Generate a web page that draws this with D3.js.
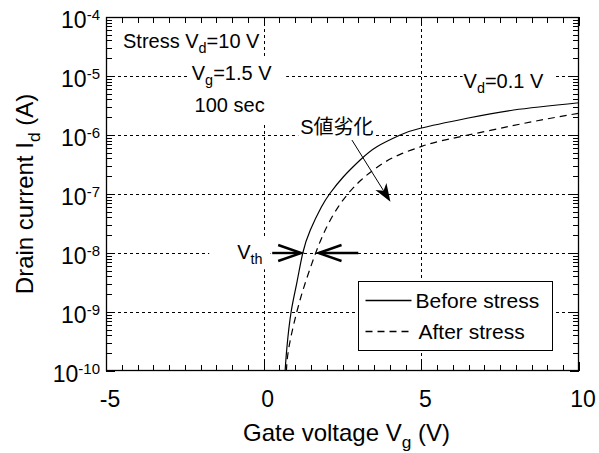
<!DOCTYPE html>
<html>
<head>
<meta charset="utf-8">
<script src="https://cdn.jsdelivr.net/npm/d3@7"></script>
<style>
  html, body { margin: 0; padding: 0; background: #fff; }
  svg { display: block; font-family: "Liberation Sans", Arial, Helvetica, sans-serif; }
</style>
</head>
<body>
<svg id="chart" width="599" height="453"></svg>
<script>
// Id–Vg transfer curves (Vd = 0.1 V) before and after hot-carrier stress
const vgBefore = [0.68, 0.74, 0.87, 1.05, 1.24, 1.48, 1.83, 2.10, 2.53, 3.06, 3.59, 4.33, 4.97, 6.45, 7.93, 10.0];
const idBefore = [1e-10, 2.6e-10, 1e-9, 3.1e-9, 1e-8, 2.45e-8, 6.0e-8, 1.02e-7, 1.96e-7, 3.77e-7, 6.33e-7, 1.0e-6, 1.30e-6, 1.92e-6, 2.65e-6, 3.52e-6];

const vgAfter = [0.72, 0.80, 1.05, 1.35, 1.65, 1.84, 2.06, 2.36, 2.67, 3.10, 3.70, 4.33, 4.97, 5.60, 7.09, 8.57, 10.0];
const idAfter = [1e-10, 2.5e-10, 1e-9, 3.5e-9, 1e-8, 1.8e-8, 3.2e-8, 6.0e-8, 1.0e-7, 1.74e-7, 3.1e-7, 4.7e-7, 6.3e-7, 7.9e-7, 1.17e-6, 1.7e-6, 2.34e-6];

const xTickValues = [-5, 0, 5, 10];
const yTickExponents = [-10, -9, -8, -7, -6, -5, -4];
const xGridValues = [0, 5];
const yGridValues = [1e-9, 1e-8, 1e-7, 1e-6, 1e-5];

const seriesNames = ["Before stress", "After stress"];

const svg = d3.select("#chart");
const pL = 106, pR = 579, pT = 17, pB = 371;

const x = d3.scaleLinear().domain([-5, 10]).range([pL, pR]);
const y = d3.scaleLog().domain([1e-10, 1e-4]).range([pB, pT]);

// dotted grid
const grid = svg.append("g").attr("stroke", "#000").attr("stroke-width", 1).attr("stroke-dasharray", "3,3");
grid.selectAll("line.h").data(yGridValues).join("line").attr("class", "h")
  .attr("x1", pL).attr("x2", pR)
  .attr("y1", d => Math.round(y(d)) + 0.5).attr("y2", d => Math.round(y(d)) + 0.5);
grid.selectAll("line.v").data(xGridValues).join("line").attr("class", "v")
  .attr("y1", pT).attr("y2", pB)
  .attr("x1", d => Math.round(x(d)) + 0.5).attr("x2", d => Math.round(x(d)) + 0.5);

// layer for white label backgrounds (above the grid, below the curves)
const bgLayer = svg.append("g");
const curveLayer = svg.append("g");
const annoLayer = svg.append("g");

function backing(textSel, padL, padR, padT, padB) {
  const b = textSel.node().getBBox();
  bgLayer.append("rect")
    .attr("x", b.x - padL).attr("y", b.y - padT)
    .attr("width", b.width + padL + padR).attr("height", b.height + padT + padB)
    .attr("fill", "#fff");
}

// curves
const line = d3.line()
  .x(d => x(d[0]))
  .y(d => y(d[1]))
  .curve(d3.curveNatural);

curveLayer.append("path")
  .datum(d3.zip(vgBefore, idBefore))
  .attr("d", line).attr("fill", "none").attr("stroke", "#000").attr("stroke-width", 1.2);
curveLayer.append("path")
  .datum(d3.zip(vgAfter, idAfter))
  .attr("d", line).attr("fill", "none").attr("stroke", "#000").attr("stroke-width", 1.2)
  .attr("stroke-dasharray", "7,5");

// text with subscripts
function subText(g, px, py, parts, size, anchor) {
  const t = g.append("text").attr("x", px).attr("y", py)
    .attr("font-size", size).attr("text-anchor", anchor || "start").attr("fill", "#000");
  const shift = size * 0.28;
  let prevSub = false;
  parts.forEach(p => {
    const ts = t.append("tspan").text(p.t);
    if (p.sub) {
      ts.attr("font-size", size * 0.72).attr("dy", shift);
    } else if (prevSub) {
      ts.attr("dy", -shift);
    }
    prevSub = !!p.sub;
  });
  return t;
}

// stress condition annotation
const annoSize = 20;
const s1 = subText(annoLayer, x(-4.46), y(3.0e-5), [{t: "Stress V"}, {t: "d", sub: true}, {t: "=10 V"}], annoSize);
backing(s1, 2, 2, 4, 4);
const s2 = subText(annoLayer, x(-2.28), y(8.6e-6), [{t: "V"}, {t: "g", sub: true}, {t: "=1.5 V"}], annoSize);
backing(s2, 3, 14, 4, 4);
const s3 = subText(annoLayer, x(-2.19), y(2.45e-6), [{t: "100 sec"}], annoSize);
backing(s3, 3, 3, 6, 6);

const s4 = subText(annoLayer, x(6.34), y(6.3e-6), [{t: "V"}, {t: "d", sub: true}, {t: "=0.1 V"}], annoSize);
backing(s4, 1, 12, 3, 3);

const s5 = annoLayer.append("text").attr("x", x(1.16)).attr("y", y(1.05e-6))
  .attr("font-size", annoSize).attr("font-family", "'Liberation Sans', 'Noto Sans CJK JP', sans-serif")
  .text("S値劣化");
backing(s5, 2, 2, 2, 2);

const s6 = subText(annoLayer, x(-0.84), y(8.0e-9), [{t: "V"}, {t: "th", sub: true}], annoSize);
backing(s6, 28, 8, 2, 2);

// S-factor degradation arrow
const aStart = [x(2.80), y(8.2e-7)], aEnd = [x(4.02), y(7.4e-8)];
const ang = Math.atan2(aEnd[1] - aStart[1], aEnd[0] - aStart[0]);
const hl = 18, hw = 6.5;
const back = [aEnd[0] - hl * Math.cos(ang), aEnd[1] - hl * Math.sin(ang)];
const notch = [aEnd[0] - hl * 0.72 * Math.cos(ang), aEnd[1] - hl * 0.72 * Math.sin(ang)];
annoLayer.append("line")
  .attr("x1", aStart[0]).attr("y1", aStart[1]).attr("x2", notch[0]).attr("y2", notch[1])
  .attr("stroke", "#000").attr("stroke-width", 1);
annoLayer.append("path")
  .attr("d", `M${aEnd[0]},${aEnd[1]}
    L${back[0] - hw * Math.sin(ang)},${back[1] + hw * Math.cos(ang)}
    L${notch[0]},${notch[1]}
    L${back[0] + hw * Math.sin(ang)},${back[1] - hw * Math.cos(ang)}Z`)
  .attr("fill", "#000");

// threshold-voltage arrows at 1e-8 A
function openArrow(x0, x1, yy) {
  const dir = Math.sign(x1 - x0);
  annoLayer.append("line").attr("x1", x0).attr("x2", x1 - dir * 1).attr("y1", yy).attr("y2", yy)
    .attr("stroke", "#000").attr("stroke-width", 2.4);
  annoLayer.append("path")
    .attr("d", `M${x1 - dir * 23},${yy - 8} L${x1},${yy} L${x1 - dir * 23},${yy + 8}`)
    .attr("fill", "none").attr("stroke", "#000").attr("stroke-width", 2.4);
}
const yVth = y(1e-8);
openArrow(x(0.27), x(1.19), yVth);
openArrow(x(3.0), x(1.74), yVth);

// legend
const legendSize = 21;
const lg = svg.append("g");
const lx = 358.5, ly = 281.5, lw = 194, lh = 69;
lg.append("rect").attr("x", lx).attr("y", ly).attr("width", lw).attr("height", lh)
  .attr("fill", "#fff").attr("stroke", "#000").attr("stroke-width", 1);
seriesNames.forEach((name, i) => {
  const yy = ly + 19 + i * 31;
  lg.append("line").attr("x1", lx + 7).attr("x2", lx + 53).attr("y1", yy).attr("y2", yy)
    .attr("stroke", "#000").attr("stroke-width", 1.6)
    .attr("stroke-dasharray", i === 1 ? "7,5" : null);
  lg.append("text").attr("x", lx + 57 + i * 3).attr("y", yy + 7).attr("font-size", legendSize).text(name);
});

// frame
svg.append("rect").attr("x", pL + 0.5).attr("y", pT + 0.5)
  .attr("width", pR - pL - 1).attr("height", pB - pT - 1)
  .attr("fill", "none").attr("stroke", "#000").attr("stroke-width", 1.3);

// inward ticks, all four sides
const tickG = svg.append("g").attr("stroke", "#000").attr("stroke-width", 1);
const xMinor = d3.range(-5, 10.001, 0.5);
xMinor.forEach(v => {
  const px = Math.round(x(v)) + 0.5;
  const len = xTickValues.includes(v) ? 9 : 6;
  tickG.append("line").attr("x1", px).attr("x2", px).attr("y1", pB).attr("y2", pB - len);
  tickG.append("line").attr("x1", px).attr("x2", px).attr("y1", pT).attr("y2", pT + len);
});
const yMinor = [];
for (let e = -10; e < -4; e++) for (let k = 2; k <= 9; k++) yMinor.push(k * Math.pow(10, e));
yMinor.forEach(v => {
  const py = Math.round(y(v)) + 0.5;
  tickG.append("line").attr("x1", pL).attr("x2", pL + 6).attr("y1", py).attr("y2", py);
  tickG.append("line").attr("x1", pR).attr("x2", pR - 6).attr("y1", py).attr("y2", py);
});
yTickExponents.forEach(e => {
  const py = Math.round(y(Math.pow(10, e))) + 0.5;
  tickG.append("line").attr("x1", pL).attr("x2", pL + 9).attr("y1", py).attr("y2", py);
  tickG.append("line").attr("x1", pR).attr("x2", pR - 9).attr("y1", py).attr("y2", py);
});

// tick labels
const tickSize = 23;
svg.append("g").selectAll("text").data(xTickValues).join("text")
  .attr("x", d => x(d) + 4).attr("y", pB + 36)
  .attr("text-anchor", "middle").attr("font-size", tickSize)
  .text(d => d);

const yl = svg.append("g").selectAll("text").data(yTickExponents).join("text")
  .attr("x", pL - 6).attr("y", d => y(Math.pow(10, d)) + 11)
  .attr("text-anchor", "end").attr("font-size", tickSize);
yl.append("tspan").text("10");
yl.append("tspan").attr("font-size", 15).attr("dy", -8).text(d => d);

// axis titles
const titleSize = 24;
subText(svg, x(2.5) + 4, 441, [{t: "Gate voltage V"}, {t: "g", sub: true}, {t: " (V)"}], titleSize, "middle");
const yt = subText(svg, 0, 0, [{t: "Drain current I"}, {t: "d", sub: true}, {t: " (A)"}], titleSize, "middle");
yt.attr("transform", `translate(33, ${(pT + pB) / 2}) rotate(-90)`);
</script>
</body>
</html>
